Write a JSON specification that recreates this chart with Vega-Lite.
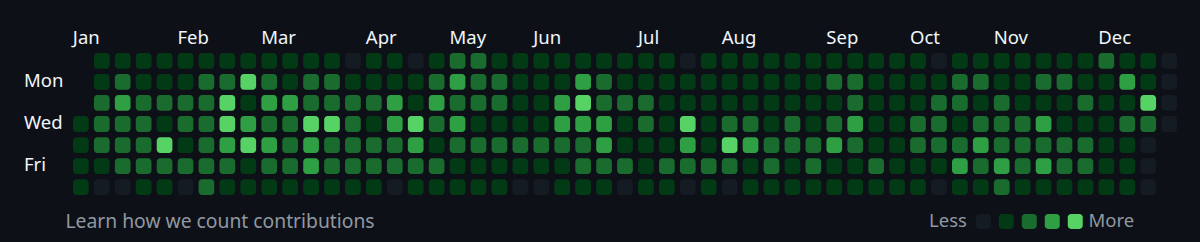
{
  "$schema": "https://vega.github.io/schema/vega-lite/v6.json",
  "autosize": {"type": "none"},
  "padding": {"left": 73, "top": 53, "right": 23, "bottom": 47},
  "width": 1104,
  "height": 142,
  "background": "#0d1117",
  "title": {
    "text": "Learn how we count contributions",
    "orient": "bottom",
    "anchor": "start",
    "dx": 42,
    "offset": -3,
    "baseline": "alphabetic",
    "font": "Noto Sans",
    "fontSize": 19.3,
    "fontWeight": "normal",
    "color": "#9198a1"
  },
  "datasets": {
    "grid": [
      {"week":1,"day":0,"level":1},{"week":2,"day":0,"level":1},{"week":3,"day":0,"level":1},{"week":4,"day":0,"level":1},{"week":5,"day":0,"level":1},{"week":6,"day":0,"level":1},{"week":7,"day":0,"level":1},{"week":8,"day":0,"level":1},{"week":9,"day":0,"level":1},{"week":10,"day":0,"level":1},
      {"week":11,"day":0,"level":1},{"week":12,"day":0,"level":1},{"week":13,"day":0,"level":0},{"week":14,"day":0,"level":1},{"week":15,"day":0,"level":1},{"week":16,"day":0,"level":0},{"week":17,"day":0,"level":1},{"week":18,"day":0,"level":2},{"week":19,"day":0,"level":2},{"week":20,"day":0,"level":1},
      {"week":21,"day":0,"level":1},{"week":22,"day":0,"level":1},{"week":23,"day":0,"level":1},{"week":24,"day":0,"level":1},{"week":25,"day":0,"level":1},{"week":26,"day":0,"level":1},{"week":27,"day":0,"level":1},{"week":28,"day":0,"level":1},{"week":29,"day":0,"level":0},{"week":30,"day":0,"level":1},
      {"week":31,"day":0,"level":1},{"week":32,"day":0,"level":1},{"week":33,"day":0,"level":1},{"week":34,"day":0,"level":1},{"week":35,"day":0,"level":1},{"week":36,"day":0,"level":1},{"week":37,"day":0,"level":1},{"week":38,"day":0,"level":1},{"week":39,"day":0,"level":1},{"week":40,"day":0,"level":1},
      {"week":41,"day":0,"level":0},{"week":42,"day":0,"level":1},{"week":43,"day":0,"level":1},{"week":44,"day":0,"level":1},{"week":45,"day":0,"level":1},{"week":46,"day":0,"level":1},{"week":47,"day":0,"level":1},{"week":48,"day":0,"level":1},{"week":49,"day":0,"level":2},{"week":50,"day":0,"level":1},
      {"week":51,"day":0,"level":1},{"week":52,"day":0,"level":0},

      {"week":1,"day":1,"level":1},{"week":2,"day":1,"level":2},{"week":3,"day":1,"level":1},{"week":4,"day":1,"level":1},{"week":5,"day":1,"level":1},{"week":6,"day":1,"level":2},{"week":7,"day":1,"level":2},{"week":8,"day":1,"level":4},{"week":9,"day":1,"level":2},{"week":10,"day":1,"level":1},
      {"week":11,"day":1,"level":2},{"week":12,"day":1,"level":2},{"week":13,"day":1,"level":1},{"week":14,"day":1,"level":1},{"week":15,"day":1,"level":1},{"week":16,"day":1,"level":1},{"week":17,"day":1,"level":2},{"week":18,"day":1,"level":3},{"week":19,"day":1,"level":2},{"week":20,"day":1,"level":2},
      {"week":21,"day":1,"level":1},{"week":22,"day":1,"level":1},{"week":23,"day":1,"level":1},{"week":24,"day":1,"level":3},{"week":25,"day":1,"level":2},{"week":26,"day":1,"level":1},{"week":27,"day":1,"level":1},{"week":28,"day":1,"level":1},{"week":29,"day":1,"level":1},{"week":30,"day":1,"level":1},
      {"week":31,"day":1,"level":1},{"week":32,"day":1,"level":1},{"week":33,"day":1,"level":1},{"week":34,"day":1,"level":1},{"week":35,"day":1,"level":1},{"week":36,"day":1,"level":2},{"week":37,"day":1,"level":2},{"week":38,"day":1,"level":1},{"week":39,"day":1,"level":1},{"week":40,"day":1,"level":1},
      {"week":41,"day":1,"level":1},{"week":42,"day":1,"level":2},{"week":43,"day":1,"level":2},{"week":44,"day":1,"level":1},{"week":45,"day":1,"level":1},{"week":46,"day":1,"level":2},{"week":47,"day":1,"level":2},{"week":48,"day":1,"level":1},{"week":49,"day":1,"level":1},{"week":50,"day":1,"level":3},
      {"week":51,"day":1,"level":1},{"week":52,"day":1,"level":0},

      {"week":1,"day":2,"level":2},{"week":2,"day":2,"level":3},{"week":3,"day":2,"level":2},{"week":4,"day":2,"level":2},{"week":5,"day":2,"level":2},{"week":6,"day":2,"level":2},{"week":7,"day":2,"level":4},{"week":8,"day":2,"level":1},{"week":9,"day":2,"level":3},{"week":10,"day":2,"level":3},
      {"week":11,"day":2,"level":2},{"week":12,"day":2,"level":2},{"week":13,"day":2,"level":2},{"week":14,"day":2,"level":2},{"week":15,"day":2,"level":3},{"week":16,"day":2,"level":1},{"week":17,"day":2,"level":3},{"week":18,"day":2,"level":2},{"week":19,"day":2,"level":2},{"week":20,"day":2,"level":2},
      {"week":21,"day":2,"level":1},{"week":22,"day":2,"level":1},{"week":23,"day":2,"level":3},{"week":24,"day":2,"level":4},{"week":25,"day":2,"level":2},{"week":26,"day":2,"level":2},{"week":27,"day":2,"level":2},{"week":28,"day":2,"level":1},{"week":29,"day":2,"level":1},{"week":30,"day":2,"level":1},
      {"week":31,"day":2,"level":1},{"week":32,"day":2,"level":1},{"week":33,"day":2,"level":1},{"week":34,"day":2,"level":1},{"week":35,"day":2,"level":1},{"week":36,"day":2,"level":1},{"week":37,"day":2,"level":2},{"week":38,"day":2,"level":1},{"week":39,"day":2,"level":1},{"week":40,"day":2,"level":1},
      {"week":41,"day":2,"level":2},{"week":42,"day":2,"level":2},{"week":43,"day":2,"level":1},{"week":44,"day":2,"level":2},{"week":45,"day":2,"level":1},{"week":46,"day":2,"level":1},{"week":47,"day":2,"level":1},{"week":48,"day":2,"level":2},{"week":49,"day":2,"level":1},{"week":50,"day":2,"level":1},
      {"week":51,"day":2,"level":4},{"week":52,"day":2,"level":0},

      {"week":0,"day":3,"level":1},
      {"week":1,"day":3,"level":2},{"week":2,"day":3,"level":2},{"week":3,"day":3,"level":2},{"week":4,"day":3,"level":1},{"week":5,"day":3,"level":2},{"week":6,"day":3,"level":2},{"week":7,"day":3,"level":4},{"week":8,"day":3,"level":3},{"week":9,"day":3,"level":2},{"week":10,"day":3,"level":2},
      {"week":11,"day":3,"level":4},{"week":12,"day":3,"level":4},{"week":13,"day":3,"level":2},{"week":14,"day":3,"level":1},{"week":15,"day":3,"level":3},{"week":16,"day":3,"level":4},{"week":17,"day":3,"level":2},{"week":18,"day":3,"level":3},{"week":19,"day":3,"level":1},{"week":20,"day":3,"level":1},
      {"week":21,"day":3,"level":1},{"week":22,"day":3,"level":1},{"week":23,"day":3,"level":3},{"week":24,"day":3,"level":3},{"week":25,"day":3,"level":3},{"week":26,"day":3,"level":1},{"week":27,"day":3,"level":2},{"week":28,"day":3,"level":1},{"week":29,"day":3,"level":4},{"week":30,"day":3,"level":1},
      {"week":31,"day":3,"level":2},{"week":32,"day":3,"level":2},{"week":33,"day":3,"level":1},{"week":34,"day":3,"level":2},{"week":35,"day":3,"level":1},{"week":36,"day":3,"level":2},{"week":37,"day":3,"level":3},{"week":38,"day":3,"level":1},{"week":39,"day":3,"level":1},{"week":40,"day":3,"level":2},
      {"week":41,"day":3,"level":2},{"week":42,"day":3,"level":1},{"week":43,"day":3,"level":2},{"week":44,"day":3,"level":2},{"week":45,"day":3,"level":2},{"week":46,"day":3,"level":3},{"week":47,"day":3,"level":1},{"week":48,"day":3,"level":1},{"week":49,"day":3,"level":1},{"week":50,"day":3,"level":2},
      {"week":51,"day":3,"level":2},{"week":52,"day":3,"level":0},

      {"week":0,"day":4,"level":1},
      {"week":1,"day":4,"level":2},{"week":2,"day":4,"level":2},{"week":3,"day":4,"level":2},{"week":4,"day":4,"level":4},{"week":5,"day":4,"level":1},{"week":6,"day":4,"level":2},{"week":7,"day":4,"level":3},{"week":8,"day":4,"level":4},{"week":9,"day":4,"level":3},{"week":10,"day":4,"level":2},
      {"week":11,"day":4,"level":3},{"week":12,"day":4,"level":2},{"week":13,"day":4,"level":2},{"week":14,"day":4,"level":2},{"week":15,"day":4,"level":2},{"week":16,"day":4,"level":3},{"week":17,"day":4,"level":1},{"week":18,"day":4,"level":2},{"week":19,"day":4,"level":2},{"week":20,"day":4,"level":2},
      {"week":21,"day":4,"level":2},{"week":22,"day":4,"level":2},{"week":23,"day":4,"level":2},{"week":24,"day":4,"level":2},{"week":25,"day":4,"level":3},{"week":26,"day":4,"level":1},{"week":27,"day":4,"level":1},{"week":28,"day":4,"level":1},{"week":29,"day":4,"level":3},{"week":30,"day":4,"level":1},
      {"week":31,"day":4,"level":4},{"week":32,"day":4,"level":3},{"week":33,"day":4,"level":2},{"week":34,"day":4,"level":2},{"week":35,"day":4,"level":2},{"week":36,"day":4,"level":3},{"week":37,"day":4,"level":2},{"week":38,"day":4,"level":1},{"week":39,"day":4,"level":1},{"week":40,"day":4,"level":2},
      {"week":41,"day":4,"level":2},{"week":42,"day":4,"level":2},{"week":43,"day":4,"level":3},{"week":44,"day":4,"level":2},{"week":45,"day":4,"level":2},{"week":46,"day":4,"level":2},{"week":47,"day":4,"level":2},{"week":48,"day":4,"level":2},{"week":49,"day":4,"level":1},{"week":50,"day":4,"level":1},
      {"week":51,"day":4,"level":0},

      {"week":0,"day":5,"level":1},
      {"week":1,"day":5,"level":1},{"week":2,"day":5,"level":2},{"week":3,"day":5,"level":2},{"week":4,"day":5,"level":2},{"week":5,"day":5,"level":2},{"week":6,"day":5,"level":2},{"week":7,"day":5,"level":2},{"week":8,"day":5,"level":1},{"week":9,"day":5,"level":2},{"week":10,"day":5,"level":2},
      {"week":11,"day":5,"level":3},{"week":12,"day":5,"level":2},{"week":13,"day":5,"level":2},{"week":14,"day":5,"level":2},{"week":15,"day":5,"level":2},{"week":16,"day":5,"level":2},{"week":17,"day":5,"level":2},{"week":18,"day":5,"level":1},{"week":19,"day":5,"level":1},{"week":20,"day":5,"level":1},
      {"week":21,"day":5,"level":1},{"week":22,"day":5,"level":1},{"week":23,"day":5,"level":1},{"week":24,"day":5,"level":2},{"week":25,"day":5,"level":2},{"week":26,"day":5,"level":2},{"week":27,"day":5,"level":1},{"week":28,"day":5,"level":2},{"week":29,"day":5,"level":2},{"week":30,"day":5,"level":2},
      {"week":31,"day":5,"level":2},{"week":32,"day":5,"level":1},{"week":33,"day":5,"level":2},{"week":34,"day":5,"level":1},{"week":35,"day":5,"level":2},{"week":36,"day":5,"level":1},{"week":37,"day":5,"level":1},{"week":38,"day":5,"level":2},{"week":39,"day":5,"level":1},{"week":40,"day":5,"level":1},
      {"week":41,"day":5,"level":1},{"week":42,"day":5,"level":3},{"week":43,"day":5,"level":2},{"week":44,"day":5,"level":3},{"week":45,"day":5,"level":2},{"week":46,"day":5,"level":3},{"week":47,"day":5,"level":2},{"week":48,"day":5,"level":2},{"week":49,"day":5,"level":1},{"week":50,"day":5,"level":1},
      {"week":51,"day":5,"level":0},

      {"week":0,"day":6,"level":1},
      {"week":1,"day":6,"level":0},{"week":2,"day":6,"level":0},{"week":3,"day":6,"level":1},{"week":4,"day":6,"level":1},{"week":5,"day":6,"level":0},{"week":6,"day":6,"level":2},{"week":7,"day":6,"level":1},{"week":8,"day":6,"level":1},{"week":9,"day":6,"level":1},{"week":10,"day":6,"level":1},
      {"week":11,"day":6,"level":1},{"week":12,"day":6,"level":1},{"week":13,"day":6,"level":1},{"week":14,"day":6,"level":1},{"week":15,"day":6,"level":0},{"week":16,"day":6,"level":1},{"week":17,"day":6,"level":1},{"week":18,"day":6,"level":1},{"week":19,"day":6,"level":1},{"week":20,"day":6,"level":1},
      {"week":21,"day":6,"level":0},{"week":22,"day":6,"level":0},{"week":23,"day":6,"level":1},{"week":24,"day":6,"level":1},{"week":25,"day":6,"level":1},{"week":26,"day":6,"level":0},{"week":27,"day":6,"level":1},{"week":28,"day":6,"level":1},{"week":29,"day":6,"level":0},{"week":30,"day":6,"level":1},
      {"week":31,"day":6,"level":0},{"week":32,"day":6,"level":1},{"week":33,"day":6,"level":1},{"week":34,"day":6,"level":1},{"week":35,"day":6,"level":1},{"week":36,"day":6,"level":1},{"week":37,"day":6,"level":1},{"week":38,"day":6,"level":1},{"week":39,"day":6,"level":1},{"week":40,"day":6,"level":1},
      {"week":41,"day":6,"level":0},{"week":42,"day":6,"level":1},{"week":43,"day":6,"level":1},{"week":44,"day":6,"level":2},{"week":45,"day":6,"level":1},{"week":46,"day":6,"level":1},{"week":47,"day":6,"level":1},{"week":48,"day":6,"level":1},{"week":49,"day":6,"level":1},{"week":50,"day":6,"level":1},
      {"week":51,"day":6,"level":0}
    ]
  },
  "data": {"name": "grid"},
  "mark": {"type": "rect", "cornerRadius": 3.5},
  "encoding": {
    "x": {
      "field": "week",
      "type": "ordinal",
      "scale": {"domain": [0,1,2,3,4,5,6,7,8,9,10,11,12,13,14,15,16,17,18,19,20,21,22,23,24,25,26,27,28,29,30,31,32,33,34,35,36,37,38,39,40,41,42,43,44,45,46,47,48,49,50,51,52], "paddingInner": 0.25, "paddingOuter": 0},
      "axis": {
        "orient": "top",
        "title": null,
        "values": [0,5,9,14,18,22,27,31,36,40,44,49],
        "labelExpr": "['Jan','Feb','Mar','Apr','May','Jun','Jul','Aug','Sep','Oct','Nov','Dec'][indexof([0,5,9,14,18,22,27,31,36,40,44,49], datum.value)]",
        "labelAlign": "left",
        "labelOffset": -8,
        "labelBaseline": "alphabetic",
        "labelPadding": 10,
        "labelAngle": 0,
        "labelOverlap": false,
        "labelColor": "#f0f6fc",
        "labelFont": "Noto Sans",
        "labelFontSize": 18.5,
        "ticks": false,
        "domain": false,
        "grid": false
      }
    },
    "y": {
      "field": "day",
      "type": "ordinal",
      "scale": {"domain": [0,1,2,3,4,5,6], "paddingInner": 0.25, "paddingOuter": 0},
      "axis": {
        "title": null,
        "values": [1,3,5],
        "labelExpr": "datum.value == 1 ? 'Mon' : datum.value == 3 ? 'Wed' : 'Fri'",
        "labelAlign": "left",
        "labelBaseline": "alphabetic",
        "labelOffset": 5,
        "labelPadding": 49.5,
        "labelColor": "#f0f6fc",
        "labelFont": "Noto Sans",
        "labelFontSize": 18.5,
        "ticks": false,
        "domain": false,
        "grid": false
      }
    },
    "color": {
      "field": "level",
      "type": "ordinal",
      "scale": {"domain": [0,1,2,3,4], "range": ["#151b23","#033a16","#196c2e","#2ea043","#56d364"]},
      "legend": {
        "orient": "none",
        "legendX": 856,
        "legendY": 159,
        "direction": "horizontal",
        "padding": 0,
        "title": "Less",
        "titleOrient": "left",
        "titleAnchor": "middle",
        "titleBaseline": "middle",
        "titlePadding": 7,
        "titleFont": "Noto Sans",
        "titleFontSize": 18.5,
        "titleFontWeight": "normal",
        "titleColor": "#9198a1",
        "labelExpr": "datum.value == 4 ? ' \u200aMore' : ''",
        "labelFont": "Noto Sans",
        "labelFontSize": 18.5,
        "labelColor": "#9198a1",
        "labelOffset": 4,
        "columnPadding": 0,
        "symbolType": "M -0.55 -1 L 0.55 -1 A 0.45 0.45 0 0 1 1 -0.55 L 1 0.55 A 0.45 0.45 0 0 1 0.55 1 L -0.55 1 A 0.45 0.45 0 0 1 -1 0.55 L -1 -0.55 A 0.45 0.45 0 0 1 -0.55 -1 Z",
        "symbolSize": 225,
        "symbolStrokeWidth": 0,
        "symbolOpacity": 1
      }
    }
  },
  "config": {
    "view": {"stroke": null},
    "font": "Noto Sans"
  }
}
